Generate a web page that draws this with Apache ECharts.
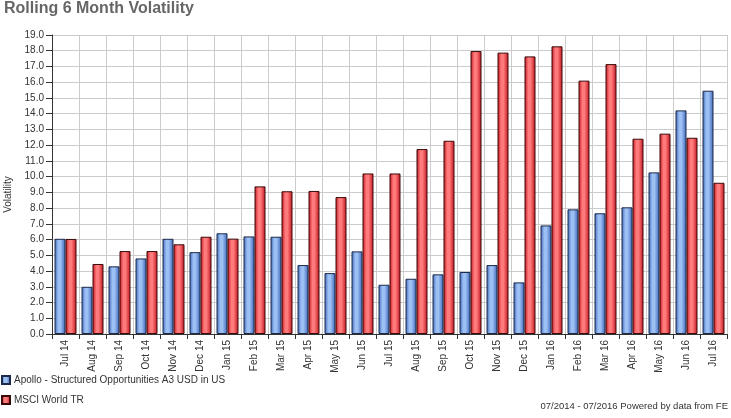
<!DOCTYPE html>
<html><head><meta charset="utf-8">
<script src="https://cdn.jsdelivr.net/npm/echarts@6/dist/echarts.min.js"></script>
<style>html,body{margin:0;padding:0;background:#fff}#c{width:731px;height:418px}</style>
</head><body><div id="c"></div>
<script>
const categories = ["Jul 14","Aug 14","Sep 14","Oct 14","Nov 14","Dec 14","Jan 15","Feb 15","Mar 15","Apr 15","May 15","Jun 15","Jul 15","Aug 15","Sep 15","Oct 15","Nov 15","Dec 15","Jan 16","Feb 16","Mar 16","Apr 16","May 16","Jun 16","Jul 16"];
const apolloValues = [6.05,3.0,4.3,4.8,6.05,5.2,6.4,6.2,6.18,4.38,3.87,5.25,3.13,3.51,3.79,3.94,4.38,3.28,6.9,7.92,7.67,8.05,10.27,14.21,15.46];
const msciValues = [6.04,4.45,5.27,5.27,5.7,6.18,6.06,9.38,9.07,9.09,8.7,10.2,10.2,11.75,12.28,17.98,17.88,17.64,18.28,16.1,17.15,12.41,12.73,12.47,9.61];
const seriesNames = ["Apollo - Structured Opportunities A3 USD in US","MSCI World TR"];

const font = "'Liberation Sans', Arial, sans-serif";
function grad(edge, mid){
  return new echarts.graphic.LinearGradient(0,0,1,0,[
    {offset:0,color:edge},{offset:0.35,color:mid},{offset:0.55,color:mid},{offset:1,color:edge}
  ]);
}
const chart = echarts.init(document.getElementById('c'), null, {renderer:'canvas'});
chart.setOption({
  animation:false,
  textStyle:{fontFamily:font},
  title:{text:"Rolling 6 Month Volatility",left:0,top:0,padding:[1,0,0,4],
    textStyle:{fontFamily:font,fontSize:16,fontWeight:'bold',color:'#666'}},
  legend:{orient:'vertical',left:1,top:375,padding:0,itemWidth:8,itemHeight:8,itemGap:10,icon:'rect',
    textStyle:{fontFamily:font,fontSize:10,color:'#333',padding:[0,0,0,-1]},
    data:seriesNames},
  graphic:[{type:'text',right:3,top:401,style:{text:"07/2014 - 07/2016 Powered by data from FE",
    font:"9.5px 'Liberation Sans', Arial, sans-serif",fill:'#333'}}],
  grid:{left:52,right:4,top:35,bottom:84,containLabel:false,outerBoundsMode:'none'},
  xAxis:{type:'category',data:categories,boundaryGap:true,
    axisLine:{lineStyle:{color:'#333'}},
    axisTick:{show:true,length:5,lineStyle:{color:'#333'}},
    axisLabel:{rotate:90,fontSize:10,color:'#333',margin:6,interval:0,fontFamily:font},
    splitLine:{show:true,lineStyle:{color:'#ccc',width:1}}},
  yAxis:{type:'value',min:0,max:19,interval:1,name:'Volatility',nameLocation:'middle',nameGap:39,
    nameTextStyle:{fontSize:10,color:'#333',fontFamily:font,padding:[0,20,0,0]},
    axisLine:{show:true,lineStyle:{color:'#333'}},
    axisTick:{show:true,length:6,lineStyle:{color:'#333'}},
    axisLabel:{fontSize:10,color:'#333',margin:8,formatter:v=>v.toFixed(1),fontFamily:font},
    splitLine:{show:true,lineStyle:{color:'#ccc',width:1}}},
  series:[
    {name:seriesNames[0],type:'bar',data:apolloValues,barWidth:11,barGap:'0%',
     itemStyle:{color:grad('#3c64b8','#9cc0f4'),borderColor:'#1c2a48',borderWidth:1}},
    {name:seriesNames[1],type:'bar',data:msciValues,barWidth:11,barGap:'0%',
     itemStyle:{color:grad('#c0121c','#ff7a7a'),borderColor:'#3a0a0a',borderWidth:1}}
  ]
});
</script></body></html>
